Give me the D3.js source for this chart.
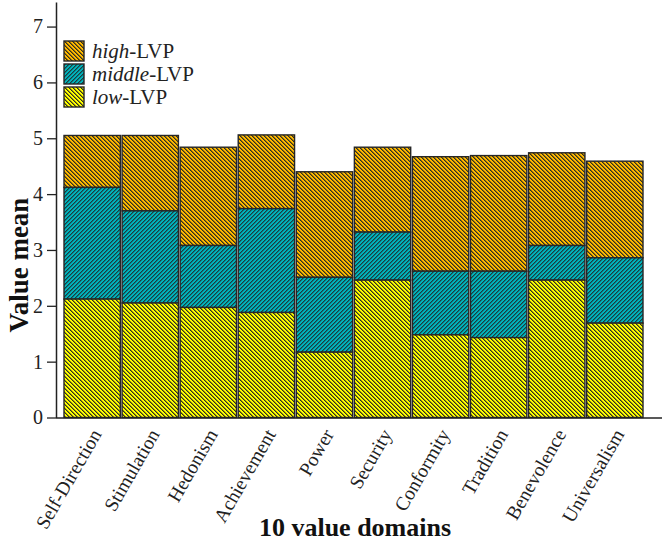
<!DOCTYPE html>
<html>
<head>
<meta charset="utf-8">
<script src="https://cdn.jsdelivr.net/npm/d3@7"></script>
<style>
  html, body { margin: 0; padding: 0; background: #fff; }
  svg { display: block; font-family: "Liberation Serif", "Times New Roman", serif; }
</style>
</head>
<body>
<svg id="chart" width="664" height="547"></svg>
<script>
// ---- data (cumulative stack tops) ----
const categories = ["Self-Direction", "Stimulation", "Hedonism", "Achievement", "Power",
                    "Security", "Conformity", "Tradition", "Benevolence", "Universalism"];
const lowTop    = [2.12, 2.05, 1.97, 1.88, 1.17, 2.46, 1.48, 1.43, 2.46, 1.69];
const middleTop = [4.12, 3.70, 3.08, 3.74, 2.51, 3.32, 2.62, 2.62, 3.08, 2.86];
const highTop   = [5.05, 5.05, 4.84, 5.06, 4.40, 4.84, 4.67, 4.69, 4.74, 4.59];
const yTicks = [0, 1, 2, 3, 4, 5, 6, 7];
const seriesNames = ["high", "middle", "low"];

const svg = d3.select("#chart");
const defs = svg.append("defs");

// pixel-aligned hatch patterns (period 4 px)
const colors = { high: "#FFB900", middle: "#00B3BB", low: "#FFFF00" };
const darkC  = { high: "#2c2c2c", middle: "#1c3c40", low: "#2c2c2c" };
const midC   = { high: "#957000", middle: "#0b777d", low: "#959500" };
function makePattern(k) {
  const p = defs.append("pattern")
    .attr("id", "pat-" + k)
    .attr("patternUnits", "userSpaceOnUse")
    .attr("x", 0).attr("y", 0)
    .attr("width", 4).attr("height", 4);
  p.append("rect").attr("width", 4).attr("height", 4).attr("fill", colors[k]);
  for (let r = 0; r < 4; r++) {
    for (let c = 0; c < 4; c++) {
      const m = k === "middle" ? ((c + r) % 4 + 4) % 4 : ((c - r) % 4 + 4) % 4;
      let fill = null;
      if (m === 0) fill = darkC[k];
      else if (m === 1) fill = midC[k];
      if (fill) p.append("rect").attr("x", c).attr("y", r).attr("width", 1).attr("height", 1)
        .attr("fill", fill).attr("shape-rendering", "crispEdges");
    }
  }
}
Object.keys(colors).forEach(makePattern);

const x = d3.scaleBand().domain(categories).range([64, 643]).paddingInner(0.03).paddingOuter(0);
const y = d3.scaleLinear().domain([0, 7.44]).range([417.5, 2]);

const segs = [];
categories.forEach((c, i) => {
  segs.push({ c, k: "high", y0: middleTop[i], y1: highTop[i] });
  segs.push({ c, k: "middle", y0: lowTop[i], y1: middleTop[i] });
  segs.push({ c, k: "low", y0: 0, y1: lowTop[i] });
});
svg.append("g").selectAll("rect").data(segs).join("rect")
  .attr("x", d => x(d.c))
  .attr("width", x.bandwidth())
  .attr("y", d => y(d.y1))
  .attr("height", d => y(d.y0) - y(d.y1))
  .attr("fill", d => `url(#pat-${d.k})`)
  .attr("stroke", "#262626")
  .attr("stroke-width", 1.4);

// y axis
const yAxis = svg.append("g").attr("transform", "translate(56,0)")
  .call(d3.axisLeft(y).tickValues(yTicks).tickFormat(d3.format("d")).tickSize(9).tickSizeOuter(0).tickPadding(4));
yAxis.select(".domain").attr("stroke", "#222").attr("stroke-width", 1.5);
yAxis.selectAll(".tick line").attr("stroke", "#222").attr("stroke-width", 1.3);
yAxis.selectAll(".tick text").attr("font-size", 20).attr("fill", "#222")
  .attr("font-family", "Liberation Serif, serif");

// x axis baseline
const xAxis = svg.append("g").attr("transform", "translate(0,418)")
  .call(d3.axisBottom(x).tickSize(0).tickSizeOuter(0));
xAxis.select(".domain").attr("d", "M56,0H662").attr("stroke", "#222").attr("stroke-width", 1.5);
xAxis.selectAll(".tick text")
  .attr("font-size", 19.5).attr("fill", "#222")
  .attr("font-family", "Liberation Serif, serif")
  .attr("text-anchor", "end")
  .attr("dy", null).attr("y", null)
  .attr("transform", "translate(10,16) rotate(-60)");

// axis titles
svg.append("text")
  .attr("transform", "translate(28,265) rotate(-90)")
  .attr("text-anchor", "middle")
  .attr("font-size", 27).attr("font-weight", "bold").attr("fill", "#111")
  .text("Value mean");
svg.append("text")
  .attr("x", 355).attr("y", 536)
  .attr("text-anchor", "middle")
  .attr("font-size", 26).attr("font-weight", "bold").attr("fill", "#111")
  .text("10 value domains");

// legend
const leg = svg.append("g").attr("transform", "translate(64,41)");
seriesNames.forEach((k, i) => {
  const g = leg.append("g").attr("transform", `translate(0,${i * 23})`);
  g.append("rect").attr("width", 20).attr("height", 20)
    .attr("fill", `url(#pat-${k})`).attr("stroke", "#262626").attr("stroke-width", 1.4);
  const t = g.append("text").attr("x", 28).attr("y", 16.5).attr("font-size", 21).attr("fill", "#222");
  t.append("tspan").attr("font-style", "italic").text(k);
  t.append("tspan").text("-LVP");
});
</script>
</body>
</html>
